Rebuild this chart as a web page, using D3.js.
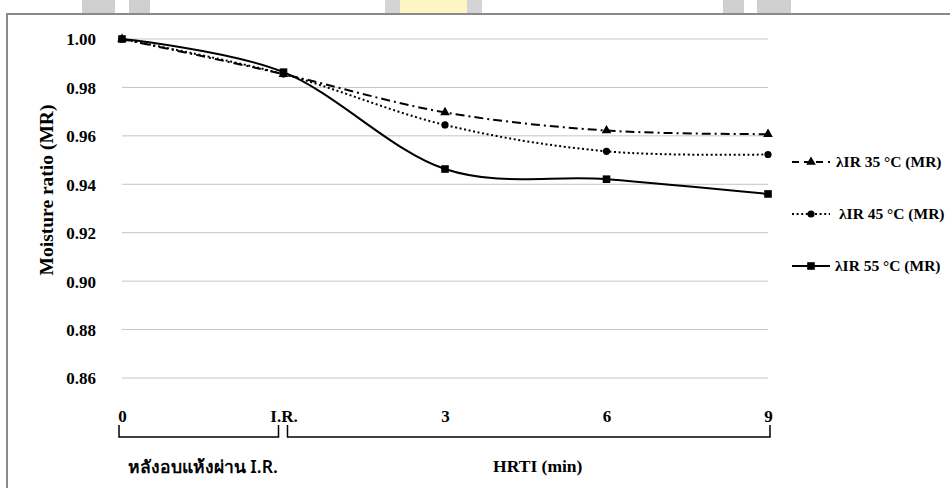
<!DOCTYPE html>
<html><head><meta charset="utf-8">
<script src="https://cdn.jsdelivr.net/npm/d3@7"></script>
<style>body{margin:0;background:#fff;overflow:hidden}svg{display:block}
.serif{font-family:"Liberation Serif","Times New Roman","DejaVu Serif",serif;font-weight:bold}</style>
</head><body><svg id="c" width="950" height="488"></svg>
<script>
const categories = ["0", "I.R.", "3", "6", "9"];
const mr35 = [1.000, 0.9855, 0.9697, 0.9622, 0.9607];
const mr45 = [1.000, 0.9855, 0.9645, 0.9536, 0.9523];
const mr55 = [1.000, 0.9863, 0.9463, 0.9421, 0.9360];
const yTicks = [0.86, 0.88, 0.90, 0.92, 0.94, 0.96, 0.98, 1.00];
const seriesNames = ["λIR 35 °C (MR)", "λIR 45 °C (MR)", "λIR 55 °C (MR)"];
const groupLabels = ["หลังอบแห้งผ่าน I.R.", "HRTI (min)"];
const yTitle = "Moisture ratio (MR)";

const svg = d3.select("#c");

// decorative frame / watermark blocks
const blocks = [[82,115,"#cfcfcf"],[129,150,"#cfcfcf"],[385,400,"#d4d4d4"],[400,467,"#fdf5c4"],[467,482,"#d4d4d4"],[723,744,"#cfcfcf"],[757,791,"#cfcfcf"]];
svg.selectAll("rect.wm").data(blocks).join("rect").attr("class","wm")
  .attr("x",d=>d[0]).attr("y",0).attr("width",d=>d[1]-d[0]).attr("height",13).attr("fill",d=>d[2]);
svg.append("line").attr("x1",6).attr("x2",950).attr("y1",14).attr("y2",14).attr("stroke","#8a8a8a").attr("stroke-width",2);
svg.append("line").attr("x1",7).attr("x2",7).attr("y1",14).attr("y2",488).attr("stroke","#8a8a8a").attr("stroke-width",2);

const x = d3.scalePoint().domain(categories).range([122, 768]);
const y = d3.scaleLinear().domain([0.86, 1.00]).range([378, 39]);

// gridlines
svg.append("g").selectAll("line").data(yTicks).join("line")
  .attr("x1",122).attr("x2",768).attr("y1",d=>y(d)).attr("y2",d=>y(d))
  .attr("stroke","#c4c4c4").attr("stroke-width",1);

// y axis labels
const yAxis = d3.axisLeft(y).tickValues(yTicks).tickFormat(d3.format(".2f")).tickSize(0).tickPadding(0);
const ya = svg.append("g").attr("transform","translate(96,0)").call(yAxis);
ya.select(".domain").remove();
ya.attr("font-family",null).attr("font-size",null);
ya.selectAll("text").attr("class","serif").style("font-size","17px").attr("fill","#000").attr("dy","0.35em");

svg.append("text").attr("class","serif").attr("transform","translate(53,190) rotate(-90)").attr("text-anchor","middle")
  .style("font-size","19.5px").text(yTitle);

// x category labels
const xAxis = d3.axisBottom(x).tickSize(0).tickPadding(0);
const xa = svg.append("g").attr("transform","translate(0,410)").call(xAxis);
xa.select(".domain").remove();
xa.attr("font-family",null).attr("font-size",null);
xa.selectAll("text").attr("class","serif").style("font-size","17px").attr("fill","#000").attr("dy","0.71em");

// brackets
const bt = 425, bb = 437;
function bracket(x1,x2){
  svg.append("path").attr("d",`M${x1},${bt}V${bb}H${x2}V${bt}`).attr("fill","none").attr("stroke","#000").attr("stroke-width",1.5);
}
bracket(x(categories[0])-3, x(categories[1])-5);
bracket(x(categories[1])+4, x(categories[4])+2);
svg.append("text").attr("x",(x(categories[0])+x(categories[1]))/2).attr("y",473).attr("text-anchor","middle")
  .style("font-family","'Noto Sans','Liberation Sans',sans-serif").style("font-size","17.5px").style("font-weight","600").text(groupLabels[0]);
svg.append("text").attr("class","serif").attr("x",(x(categories[1])+x(categories[4]))/2+12).attr("y",472).attr("text-anchor","middle")
  .style("font-size","17.5px").text(groupLabels[1]);

// series
const series = [
  {vals:mr35, dash:"9,4,2,4", marker:"triangle"},
  {vals:mr45, dash:"2,2.6", marker:"circle"},
  {vals:mr55, dash:null, marker:"square"}
];
const line = d3.line().x((d,i)=>x(categories[i])).y(d=>y(d)).curve(d3.curveCardinal.tension(0));
function marker(g, type, cx, cy){
  if(type==="triangle") g.append("path").attr("d",d3.symbol(d3.symbolTriangle,40)()).attr("transform",`translate(${cx},${cy})`).attr("fill","#000");
  else if(type==="circle") g.append("circle").attr("cx",cx).attr("cy",cy).attr("r",3.6).attr("fill","#000");
  else g.append("rect").attr("x",cx-3.8).attr("y",cy-3.8).attr("width",7.6).attr("height",7.6).attr("fill","#000");
}
series.forEach(s=>{
  const g = svg.append("g");
  g.append("path").attr("d",line(s.vals)).attr("fill","none").attr("stroke","#000").attr("stroke-width",2)
    .attr("stroke-dasharray",s.dash);
  s.vals.forEach((v,i)=>marker(g,s.marker,x(categories[i]),y(v)));
});

// legend
const legY = [162, 214, 266];
const legTx = [836, 839, 835];
series.forEach((s,i)=>{
  const g = svg.append("g");
  g.append("line").attr("x1",792).attr("x2",830).attr("y1",legY[i]).attr("y2",legY[i])
    .attr("stroke","#000").attr("stroke-width",2).attr("stroke-dasharray",s.dash===null?null:(i===0?"7,5":"2,2.6"));
  marker(g,s.marker,811,legY[i]);
  g.append("text").attr("class","serif").attr("x",legTx[i]).attr("y",legY[i]).attr("dy","0.35em")
    .style("font-size","15.5px").text(seriesNames[i]);
});
</script></body></html>
